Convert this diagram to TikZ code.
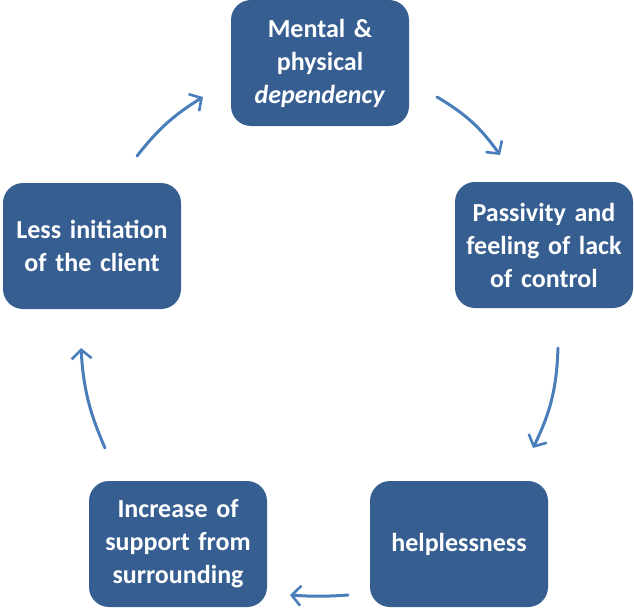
\documentclass[tikz,border=0pt]{standalone}
\usepackage{fontspec}
\setmainfont{Carlito}
\usetikzlibrary{arrows.meta}
\definecolor{boxblue}{RGB}{54,94,145}
\definecolor{arrowblue}{RGB}{74,126,187}
\tikzset{
  cbox/.style={draw=none, fill=boxblue, rounded corners=20pt, minimum width=178pt, minimum height=126pt,
    text width=170pt, align=center, text=white, inner sep=0pt,
    font=\fontsize{26}{33}\selectfont\bfseries},
  carrow/.style={draw=arrowblue, line width=3pt, line cap=round,
    -{Straight Barb[length=9pt,width=20pt,line width=2.6pt]}}
}
\begin{document}
\begin{tikzpicture}[x=1pt,y=1pt]
\useasboundingbox (0,0) rectangle (634,-610);
\node[cbox] (top) at (320,-63) {Mental \&\\physical\\\textit{dependency}};
\node[cbox] (right) at (544,-245) {Passivity and\\feeling of lack\\of control};
\node[cbox] (br) at (459,-544) {helplessness};
\node[cbox] (bl) at (178,-544) {Increase of\\support from\\surrounding};
\node[cbox] (left) at (92,-246) {Less initiation\\of the client};
\coordinate (a1s) at (437,-97);  \coordinate (a1e) at (500,-155);
\coordinate (a2s) at (558,-348); \coordinate (a2e) at (533,-448);
\coordinate (a3s) at (348,-595); \coordinate (a3e) at (290,-595);
\coordinate (a4s) at (105,-448); \coordinate (a4e) at (81,-348);
\coordinate (a5s) at (137,-156); \coordinate (a5e) at (203,-97);
\draw[carrow] (a1s) to[bend left=12] (a1e);
\draw[carrow] (a2s) to[bend left=12] (a2e);
\draw[carrow] (a3s) to[bend left=4] (a3e);
\draw[carrow] (a4s) to[bend left=10] (a4e);
\draw[carrow] (a5s) to[bend left=10] (a5e);
\end{tikzpicture}
\end{document}
